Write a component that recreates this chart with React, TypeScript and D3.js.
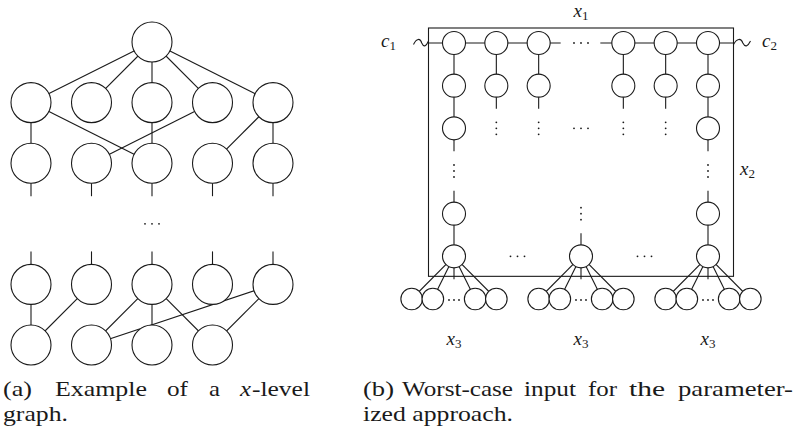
import { useEffect, useRef } from "react";
import * as d3 from "d3";

const WIDTH = 804;
const HEIGHT = 431;
const INK = "#1a1a1a";
const FONT = "'Liberation Serif', 'DejaVu Serif', serif";

// (a) x-level graph: nodes are [column, level]
const levelGraphNodes = [
  [2, 0],
  [0, 1], [1, 1], [2, 1], [3, 1], [4, 1],
  [0, 2], [1, 2], [2, 2], [3, 2], [4, 2],
  [0, 4], [1, 4], [2, 4], [3, 4], [4, 4],
  [0, 5], [1, 5], [2, 5], [3, 5],
];
const levelGraphEdges = [
  [[2, 0], [0, 1]], [[2, 0], [1, 1]], [[2, 0], [2, 1]], [[2, 0], [3, 1]], [[2, 0], [4, 1]],
  [[0, 1], [0, 2]], [[0, 1], [2, 2]], [[2, 1], [2, 2]], [[3, 1], [1, 2]], [[4, 1], [3, 2]], [[4, 1], [4, 2]],
  [[0, 4], [0, 5]], [[1, 4], [0, 5]], [[2, 4], [1, 5]], [[2, 4], [2, 5]], [[2, 4], [3, 5]],
  [[4, 4], [1, 5]], [[4, 4], [3, 5]],
];
// stubs: [column, level, direction (+1 down, -1 up)]
const levelGraphStubs = [
  [0, 2, 1], [1, 2, 1], [2, 2, 1], [3, 2, 1], [4, 2, 1],
  [0, 4, -1], [1, 4, -1], [2, 4, -1], [3, 4, -1], [4, 4, -1],
];
const levelGraphDots = [[2, 3]];

// (b) worst-case input: nodes are [column, row]
const gridNodes = [
  [0, 0], [1, 0], [2, 0], [4, 0], [5, 0], [6, 0],
  [0, 1], [1, 1], [2, 1], [4, 1], [5, 1], [6, 1],
  [0, 2], [6, 2],
  [0, 4], [6, 4],
  [0, 5], [3, 5], [6, 5],
];
const gridEdges = [
  [[0, 0], [0, 1]], [[1, 0], [1, 1]], [[2, 0], [2, 1]], [[4, 0], [4, 1]], [[5, 0], [5, 1]], [[6, 0], [6, 1]],
  [[0, 1], [0, 2]], [[6, 1], [6, 2]],
  [[0, 4], [0, 5]], [[6, 4], [6, 5]],
];
const gridStubs = [
  [1, 1, 1], [2, 1, 1], [4, 1, 1], [5, 1, 1],
  [0, 2, 1], [6, 2, 1],
  [0, 4, -1], [6, 4, -1],
  [3, 5, -1],
  [0, 5, 1], [3, 5, 1], [6, 5, 1],
];
const gridVDots = [[1, 2], [2, 2], [4, 2], [5, 2], [0, 3], [6, 3], [3, 4]];
const gridHDots = [[3, 0], [3, 2], [1.5, 5], [4.5, 5]];
const leafParents = [0, 3, 6];
const leafOffsets = [-2, -1, 1, 2];
const x3Columns = [0, 3, 6];

// caption words with their [start, end] spans (justified lines)
const captionALine1 = ["(a)", "Example", "of", "a", "x", "-level"];
const captionALine1Spans = [[3, 32], [55, 147], [167, 188], [209, 220], [240, 251], [252, 310]];
const captionALine2 = "graph.";
const captionBLine1 = ["(b)", "Worst-case", "input", "for", "the", "parameter-"];
const captionBLine1Spans = [[363, 394], [402, 513], [524, 576], [588, 617], [629, 665], [678, 793]];
const captionBLine2 = "ized approach.";

export default function App() {
  const ref = useRef<SVGSVGElement>(null);

  useEffect(() => {
    if (!ref.current) return;
    const svg = d3.select(ref.current);
    svg.selectAll("*").remove();

    const hdots = (g, cx, cy, gap) => {
      [-1, 0, 1].forEach((k) =>
        g.append("circle").attr("cx", cx + k * gap).attr("cy", cy).attr("r", 0.9).attr("fill", INK).attr("stroke", "none")
      );
    };
    const vdots = (g, cx, cy, gap) => {
      [-1, 0, 1].forEach((k) =>
        g.append("circle").attr("cx", cx).attr("cy", cy + k * gap).attr("r", 0.9).attr("fill", INK).attr("stroke", "none")
      );
    };

    // ---------- (a) ----------
    const xA = d3.scaleLinear().domain([0, 4]).range([31, 273]);
    const yA = d3.scaleLinear().domain([0, 5]).range([42, 345]);
    const rA = 20;
    const gA = svg.append("g").attr("stroke", INK).attr("stroke-width", 1.1);

    gA.selectAll("line.edge")
      .data(levelGraphEdges)
      .join("line")
      .attr("x1", (d) => xA(d[0][0]))
      .attr("y1", (d) => yA(d[0][1]))
      .attr("x2", (d) => xA(d[1][0]))
      .attr("y2", (d) => yA(d[1][1]));

    gA.selectAll("line.stub")
      .data(levelGraphStubs)
      .join("line")
      .attr("x1", (d) => xA(d[0]))
      .attr("x2", (d) => xA(d[0]))
      .attr("y1", (d) => yA(d[1]))
      .attr("y2", (d) => yA(d[1]) + d[2] * 33);

    gA.selectAll("circle.node")
      .data(levelGraphNodes)
      .join("circle")
      .attr("cx", (d) => xA(d[0]))
      .attr("cy", (d) => yA(d[1]))
      .attr("r", rA)
      .attr("fill", "white");

    levelGraphDots.forEach((d) => hdots(gA, xA(d[0]), yA(d[1]), 7));

    // ---------- (b) ----------
    const xB = d3.scaleLinear().domain([0, 6]).range([454, 708]);
    const yB = d3.scaleLinear().domain([0, 6]).range([43, 299]);
    const rB = 11.5;
    const rLeaf = 10.8;
    const gB = svg.append("g").attr("stroke", INK).attr("stroke-width", 1.1);

    const boxLeft = xB(0) - 25.5;
    const boxRight = xB(6) + 25.5;
    const boxTop = yB(0) - 15;
    const boxBottom = yB(5) + 20;

    gB.append("rect")
      .attr("x", boxLeft)
      .attr("y", boxTop)
      .attr("width", boxRight - boxLeft)
      .attr("height", boxBottom - boxTop)
      .attr("fill", "none");

    // top row chain
    gB.append("line").attr("x1", boxLeft).attr("x2", xB(2) + 22).attr("y1", yB(0)).attr("y2", yB(0));
    gB.append("line").attr("x1", xB(4) - 23).attr("x2", boxRight).attr("y1", yB(0)).attr("y2", yB(0));

    // tildes outside the box
    const tilde = (x0, y0, w) => {
      const p = d3.path();
      p.moveTo(x0, y0 + 1.5);
      p.bezierCurveTo(x0 + w * 0.2, y0 - 5, x0 + w * 0.45, y0 - 5, x0 + w * 0.55, y0);
      p.bezierCurveTo(x0 + w * 0.7, y0 + 5, x0 + w * 0.85, y0 + 3, x0 + w, y0 - 2);
      return p.toString();
    };
    gB.append("path").attr("d", tilde(boxLeft - 15, yB(0), 15)).attr("fill", "none");
    gB.append("path").attr("d", tilde(boxRight, yB(0), 17)).attr("fill", "none");

    gB.selectAll("line.edge")
      .data(gridEdges)
      .join("line")
      .attr("x1", (d) => xB(d[0][0]))
      .attr("y1", (d) => yB(d[0][1]))
      .attr("x2", (d) => xB(d[1][0]))
      .attr("y2", (d) => yB(d[1][1]));

    gB.selectAll("line.stub")
      .data(gridStubs)
      .join("line")
      .attr("x1", (d) => xB(d[0]))
      .attr("x2", (d) => xB(d[0]))
      .attr("y1", (d) => yB(d[1]))
      .attr("y2", (d) => yB(d[1]) + d[2] * 23);

    // leaf edges
    const leaves = leafParents.flatMap((c) => leafOffsets.map((o) => [c, o]));
    gB.selectAll("line.leaf")
      .data(leaves)
      .join("line")
      .attr("x1", (d) => xB(d[0]))
      .attr("y1", () => yB(5))
      .attr("x2", (d) => xB(d[0] + d[1] / 2))
      .attr("y2", () => yB(6));

    gB.selectAll("circle.node")
      .data(gridNodes)
      .join("circle")
      .attr("cx", (d) => xB(d[0]))
      .attr("cy", (d) => yB(d[1]))
      .attr("r", rB)
      .attr("fill", "white");

    gB.selectAll("circle.leafnode")
      .data(leaves)
      .join("circle")
      .attr("cx", (d) => xB(d[0] + d[1] / 2))
      .attr("cy", () => yB(6))
      .attr("r", rLeaf)
      .attr("fill", "white");

    gridVDots.forEach((d) => vdots(gB, xB(d[0]), yB(d[1]), 6));
    gridHDots.forEach((d) => hdots(gB, xB(d[0]), yB(d[1]), 7));
    leafParents.forEach((c) => hdots(gB, xB(c), yB(6) + 1, 5));

    // math labels
    const mathLabel = (x, y, base, sub, anchor = "start") => {
      const t = svg
        .append("text")
        .attr("x", x)
        .attr("y", y)
        .attr("text-anchor", anchor)
        .style("font-family", FONT)
        .attr("fill", INK);
      t.append("tspan").attr("font-style", "italic").attr("font-size", 19).text(base);
      t.append("tspan").attr("font-size", 13).attr("dy", 3).text(sub);
    };
    mathLabel(xB(3), 17, "x", "1", "middle");
    mathLabel(381, 47, "c", "1");
    mathLabel(762, 47, "c", "2");
    mathLabel(740, 175, "x", "2");
    x3Columns.forEach((c) => mathLabel(xB(c), 345, "x", "3", "middle"));

    // captions
    const caption = svg.append("g").style("font-family", FONT).attr("font-size", 22).attr("fill", INK);
    const word = (w, span, y, italic = false) =>
      caption
        .append("text")
        .attr("x", span[0])
        .attr("y", y)
        .attr("textLength", span[1] - span[0])
        .attr("lengthAdjust", "spacingAndGlyphs")
        .attr("font-style", italic ? "italic" : null)
        .text(w);

    captionALine1.forEach((w, i) => word(w, captionALine1Spans[i], 396, w === "x"));
    word(captionALine2, [3, 68], 421);
    captionBLine1.forEach((w, i) => word(w, captionBLine1Spans[i], 396));
    word(captionBLine2, [363, 513], 421);
  }, []);

  return (
    <svg
      ref={ref}
      width={WIDTH}
      height={HEIGHT}
      viewBox={`0 0 ${WIDTH} ${HEIGHT}`}
      style={{ position: "absolute", left: 0, top: 0, background: "white" }}
    />
  );
}
